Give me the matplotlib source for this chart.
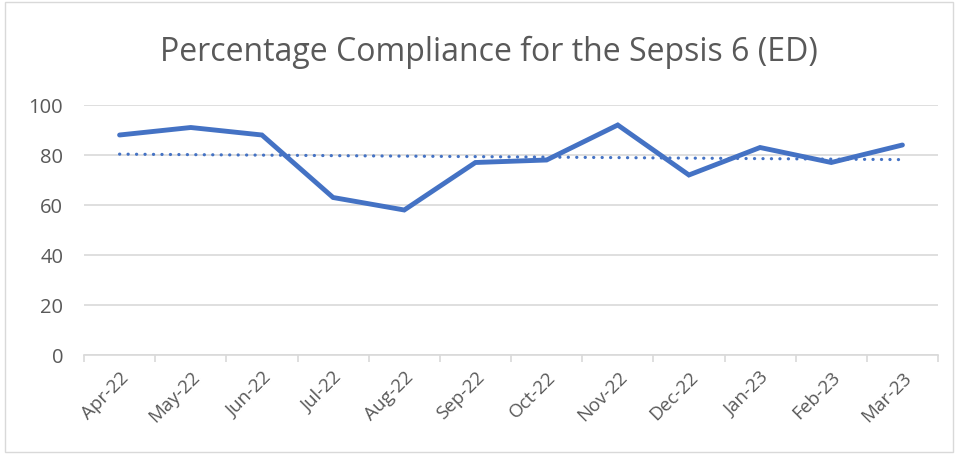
import matplotlib
matplotlib.use("Agg")
import matplotlib.pyplot as plt
from matplotlib.patches import Rectangle
import numpy as np

months = ["Apr-22", "May-22", "Jun-22", "Jul-22", "Aug-22", "Sep-22",
          "Oct-22", "Nov-22", "Dec-22", "Jan-23", "Feb-23", "Mar-23"]
compliance = [88, 91, 88, 63, 58, 77, 78, 92, 72, 83, 77, 84]
yticks = [0, 20, 40, 60, 80, 100]

plt.rcParams['font.family'] = ['Open Sans', 'DejaVu Sans']

fig = plt.figure(figsize=(9.55, 4.56), dpi=100)
ax = fig.add_axes([84/955, 1-356/456, (938-84)/955, 250/456])

x = np.arange(len(months))
ax.plot(x, compliance, color="#4472C4", lw=3.5, solid_capstyle="round",
        solid_joinstyle="miter", zorder=3)
coef = np.polyfit(x, compliance, 1)
ax.plot(x, np.polyval(coef, x), color="#4472C4", lw=2.3,
        linestyle=(0, (0.05, 2.6)), dash_capstyle="round", zorder=2)

ax.set_xlim(-0.5, len(months) - 0.5)
ax.set_ylim(0, 100)
ax.set_yticks(yticks)
ax.set_yticklabels([str(v) for v in yticks], fontsize=14.5, color="#595959")
ax.yaxis.grid(True, color="#D9D9D9", lw=1.2)
ax.set_axisbelow(True)
ax.tick_params(axis="y", length=0, pad=15)

ax.set_xticks(x)
ax.set_xticklabels(months, rotation=45, ha="right", rotation_mode="anchor",
                   fontsize=13.5, color="#595959")
ax.set_xticks(np.arange(-0.5, len(months)), minor=True)
ax.tick_params(axis="x", which="major", length=0, pad=9)
ax.tick_params(axis="x", which="minor", length=5, color="#D9D9D9", width=1.2)

for s in ["top", "right", "left"]:
    ax.spines[s].set_visible(False)
ax.spines["bottom"].set_color("#D9D9D9")
ax.spines["bottom"].set_linewidth(1.2)

fig.text(489/955, 1-52/456, "Percentage Compliance for the Sepsis 6 (ED)",
         ha="center", va="center", fontsize=23, color="#595959")

fig.patches.append(Rectangle((5/955, 3/456), 948/955, 450/456, transform=fig.transFigure,
                             fill=False, edgecolor="#D9D9D9", lw=1))

fig.savefig("out.png", dpi=100)
